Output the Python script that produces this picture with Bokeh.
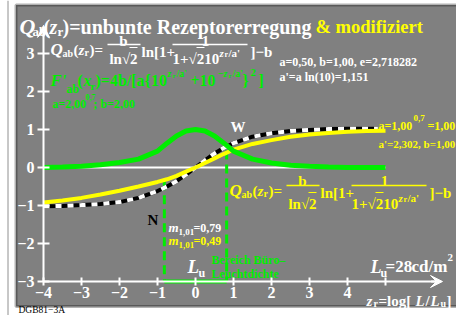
from bokeh.plotting import figure
from bokeh.models import FixedTicker, Arrow, VeeHead, BoxAnnotation
from bokeh.core.properties import value
from bokeh.embed import file_html
from bokeh.resources import INLINE

# ---------------- data ----------------
z = [-4, -3.5, -3, -2.5, -2, -1.5, -1, -0.75, -0.5, -0.25, 0, 0.25, 0.5, 0.75,
     1, 1.5, 2, 2.5, 3, 3.5, 4, 4.5, 5]
q_unbunt = [-1.02, -1.01, -0.99, -0.96, -0.91, -0.80, -0.62, -0.50, -0.36, -0.19, 0.0,
            0.19, 0.37, 0.52, 0.64, 0.81, 0.90, 0.96, 0.99, 1.01, 1.02, 1.02, 1.02]
q_modif = [-0.92, -0.87, -0.80, -0.71, -0.61, -0.50, -0.38, -0.31, -0.22, -0.11, 0.0,
           0.12, 0.24, 0.36, 0.47, 0.62, 0.72, 0.81, 0.87, 0.91, 0.94, 0.96, 0.97]
f_deriv = [0.0, 0.01, 0.035, 0.07, 0.13, 0.22, 0.43, 0.64, 0.83, 0.96, 1.0,
           0.96, 0.83, 0.64, 0.43, 0.22, 0.12, 0.06, 0.03, 0.01, 0.0, 0.0, 0.0]
z_unbunt_end = 4.8
buero_range = [-0.82, 0.82]
buero_start = [-0.36, 0.45]
x_ticks = [-4, -3, -2, -1, 0, 1, 2, 3, 4, 5]
x_labels = ["\u22124", "\u22123", "\u22122", "\u22121", "0", "1", "2", "3", "4", ""]
y_ticks = [-3, -2, -1, 0, 1, 2, 3]
y_labels = ["\u22123", "\u22122", "\u22121", "0", "1", "2", "3"]

FONT = "Liberation Serif"
GRAY = "#808080"
YEL = "#ffff00"
GRN = "#00ee00"

# page pixel -> data (frame covers the whole 456x315 canvas; unit = 38 px)
def X(px):
    return (px - 195) / 38.0

def Y(py):
    return (167 - py) / 38.0

p = figure(width=456, height=315, x_range=(X(0), X(456)), y_range=(Y(315), Y(0)),
           output_backend="svg", toolbar_location=None,
           min_border_left=0, min_border_right=0, min_border_top=0, min_border_bottom=0,
           background_fill_color="white", border_fill_color="white",
           outline_line_color=None)
p.xgrid.visible = False
p.ygrid.visible = False

# grey chart panel with black border
p.add_layout(BoxAnnotation(left=X(15.5), right=X(470), top=Y(4.5), bottom=Y(306),
                           fill_color=GRAY, fill_alpha=1.0, line_color="black",
                           line_width=3, level="underlay"))
# thin page rule on the left
p.line([X(7.5), X(7.5)], [Y(0), Y(315)], line_color="#909090", line_width=1)

# axes placed inside the frame
for ax, loc, ticks, labels, bnd in ((p.xaxis, -3, x_ticks, x_labels, (-4, 6.35)),
                                    (p.yaxis, -4, y_ticks, y_labels, (-3, 3.55))):
    ax.fixed_location = loc
    ax.ticker = FixedTicker(ticks=ticks)
    ax.major_label_overrides = {t: l for t, l in zip(ticks, labels)}
    ax.bounds = bnd
    ax.axis_line_color = "white"
    ax.axis_line_width = 2
    ax.major_tick_line_color = "white"
    ax.major_tick_line_width = 2
    ax.minor_tick_line_color = None
    ax.major_label_text_color = "white"
    ax.major_label_text_font = FONT
    ax.major_label_text_font_style = "bold"
    ax.major_label_text_font_size = "16px"
p.xaxis.major_tick_in = 4
p.xaxis.major_tick_out = 4
p.xaxis.major_label_standoff = 1
p.yaxis.major_tick_in = 6
p.yaxis.major_tick_out = 6
p.yaxis.major_label_standoff = 3

p.add_layout(Arrow(end=VeeHead(size=12, fill_color="white", line_color="white"),
                   x_start=6.2, y_start=-3, x_end=6.5, y_end=-3,
                   line_color="white", line_width=2))
p.add_layout(Arrow(end=VeeHead(size=12, fill_color="white", line_color="white"),
                   x_start=-4, y_start=3.45, x_end=-4, y_end=3.74,
                   line_color="white", line_width=2))

# zero line
p.line([z[0], z[-1]], [0, 0], line_color="white", line_width=2)

# Büro range markers
for xb, yb in zip(buero_range, buero_start):
    p.line([xb, xb], [yb, -3], line_color=GRN, line_width=3, line_dash="9 5")
p.line(buero_range, [-3, -3], line_color=GRN, line_width=4)

# curves
zu = [v for v in z if v <= z_unbunt_end] + [z_unbunt_end]
qu = q_unbunt[:len(zu) - 1] + [q_unbunt[len(zu) - 1]]
p.line(zu, qu, line_color="black", line_width=4)
p.line(zu, qu, line_color="white", line_width=4, line_dash="6 6")
p.line(z, q_modif, line_color=YEL, line_width=4)
p.line(z, f_deriv, line_color=GRN, line_width=5)


def T(px, py, s, size, color="white", style="bold", align="left", baseline="alphabetic"):
    p.text(x=[X(px)], y=[Y(py)], text=[s], text_font=value(FONT),
           text_font_size=f"{size}px", text_font_style=value(style),
           text_color=color, text_align=align, text_baseline=baseline)


def HL(x0, x1, py, color, w=1.5):
    p.segment(x0=[X(x0)], y0=[Y(py)], x1=[X(x1)], y1=[Y(py)], line_color=color, line_width=w)


# title
T(19, 26, "Q", 22, style="bold italic")
T(32, 31, "ab", 13)
T(43, 26, "(", 20)
T(49, 26, "z", 20, style="bold italic")
T(57, 31, "r", 13)
T(62, 26, ")=unbunte Rezeptorerregung", 20)
T(315, 26, "& modifiziert", 18.5, color=YEL)


def formula(ox, ly, nu, de, color):
    T(ox, ly + 5, "Q", 17, color, "bold italic")
    T(ox + 12, ly + 9, "ab", 10, color)
    T(ox + 23, ly + 5, "(", 15, color)
    T(ox + 28, ly + 5, "z", 15, color, "bold italic")
    T(ox + 34, ly + 8, "r", 10, color)
    T(ox + 39, ly + 5, ")=", 15, color)
    T(ox + 73, ly - nu, "b", 15, color, align="center")
    HL(ox + 57, ox + 90, ly, color)
    T(ox + 73, ly + de, "ln\u221a2", 15, color, align="center")
    HL(ox + 79, ox + 87, ly + de - 11, color, 1)
    T(ox + 91, ly + 7, "ln[1+", 15, color)
    T(ox + 155, ly - nu, "1", 15, color, align="center")
    HL(ox + 122, ox + 197, ly, color)
    T(ox + 122, ly + de, "1+\u221a210", 15, color)
    HL(ox + 146, ox + 154, ly + de - 11, color, 1)
    T(ox + 169, ly + de - 6, "z", 11, color, "bold italic")
    T(ox + 174, ly + de - 4, "r", 8, color)
    T(ox + 178, ly + de - 6, "/a'", 11, color)
    T(ox + 200, ly + 7, "]\u2212b", 15, color)


formula(50, 44, 4, 14, "white")
formula(229, 185, 5, 18, YEL)

# green derivative formula
T(50, 80, "F'", 17, GRN, "bold italic")
T(66, 88, "ab", 12, GRN)
T(77, 80, "(", 16, GRN)
T(83, 80, "x", 16, GRN, "bold italic")
T(90, 85, "r", 11, GRN)
T(95, 80, ")=4b/[a{10", 16, GRN)
T(167, 73, "z", 10, GRN, "bold italic")
T(172, 75, "r", 7, GRN)
T(176, 73, "/a'", 10, GRN)
T(190, 80, "+10", 16, GRN)
T(217, 73, "\u2212z", 10, GRN, "bold italic")
T(228, 75, "r", 7, GRN)
T(232, 73, "/a'", 10, GRN)
T(242, 80, "}", 16, GRN)
T(250, 72, "2", 11, GRN)
T(258, 80, "]", 16, GRN)
T(52, 103, "a=2,00", 12, GRN)
T(85, 96, "0,7", 8, GRN)
T(93, 103, "; b=2,00", 12, GRN)

# parameters
T(279, 61, "a=0,50, b=1,00, e=2,718282", 12)
T(279, 76, "a'=a ln(10)=1,151", 12)
T(378, 125, "a=1,00", 12, YEL)
T(413, 117, "0,7", 9, YEL)
T(427, 125, "=1,00", 12, YEL)
T(378, 143, "a'=2,302, b=1,00", 11, YEL)

T(230, 126, "W", 15)
T(147, 219, "N", 15, "black")

# slopes
T(168, 227, "m", 13, "white", "bold italic")
T(178, 231, "1,01", 9)
T(193, 227, "=0,79", 12)
T(168, 240, "m", 13, YEL, "bold italic")
T(178, 244, "1,01", 9, YEL)
T(193, 240, "=0,49", 12, YEL)

T(187, 266, "L", 19, "white", "bold italic")
T(198, 272, "u", 12)
T(211, 259, "Bereich B\u00fcro\u2013", 12, GRN)
T(211, 273, "Leuchtdichte", 12, GRN)

T(370, 266, "L", 18, "white", "bold italic")
T(380, 272, "u", 12)
T(385, 266, "=28", 17)
T(411, 266, "cd/m", 17)
T(447, 257, "2", 11)

T(366, 300, "z", 15, "white", "bold italic")
T(373, 303, "r", 10)
T(378, 300, "=log[", 15)
T(415, 300, "L", 15, "white", "bold italic")
T(425, 300, "/", 15)
T(430, 300, "L", 15, "white", "bold italic")
T(440, 303, "u", 10)
T(446, 300, "]", 15)

T(18, 314, "DGB81\u22123A", 9.5, "black", "normal", baseline="bottom")

open("out.html", "w").write(file_html(p, INLINE))
